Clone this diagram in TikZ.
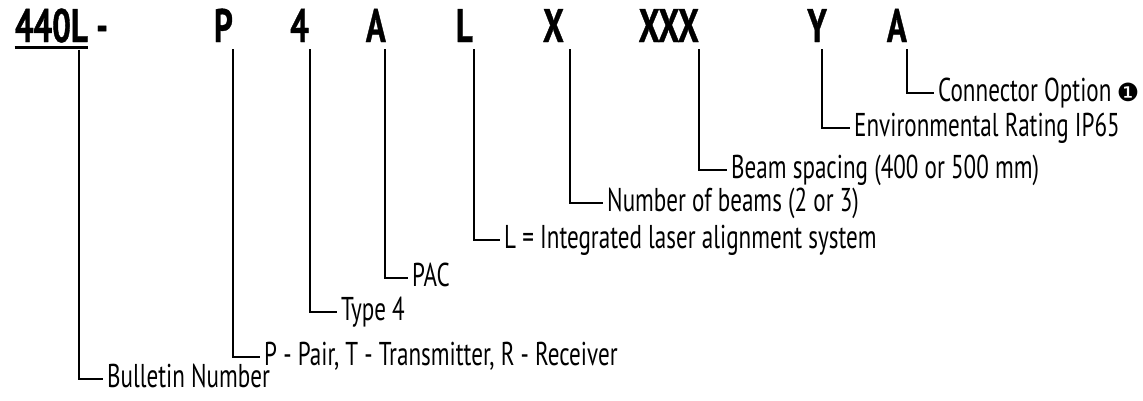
\documentclass[tikz,border=0pt]{standalone}
\usepackage{fontspec}
\setmainfont{PT Sans}[FakeStretch=0.70, BoldFeatures={FakeBold=0.8}]
\newfontfamily\symfont{DejaVu Sans}
\usetikzlibrary{positioning}

\begin{document}
\begin{tikzpicture}[x=1pt, y=-1pt,
    codechar/.style={font=\fontsize{47}{47}\selectfont\bfseries,
        inner xsep=0pt, inner ysep=7pt, anchor=base east},
    optlabel/.style={font=\fontsize{33}{33}\selectfont,
        inner xsep=4pt, inner ysep=0pt, text height=16pt, text depth=0pt,
        anchor=west},
    lead/.style={line width=2pt}
]
    \useasboundingbox (0,0) rectangle (1143,400);

    \node[codechar] (c440) at (88,42) {440L};
    \node[codechar, anchor=base west] (cdash) at (96,42) {-};
    \node[codechar] (cP) at (233,42) {P};
    \node[codechar] (c4) at (309,42) {4};
    \node[codechar] (cA) at (386,42) {A};
    \node[codechar] (cL) at (473,42) {L};
    \node[codechar] (cX) at (564,42) {X};
    \node[codechar] (cXXX) at (699,42) {XXX};
    \node[codechar] (cY) at (827,42) {Y};
    \node[codechar] (cConn) at (907,42) {A};
    \draw[line width=3pt] ([yshift=-5pt]c440.base west) -- ([yshift=-5pt]c440.base east);

    \node[optlabel] (lBul) at (103,379) {Bulletin Number};
    \node[optlabel] (lP) at (260,357) {P - Pair, T - Transmitter, R - Receiver};
    \node[optlabel] (lType) at (337,312) {Type 4};
    \node[optlabel] (lPAC) at (408,278) {PAC};
    \node[optlabel] (lL) at (500,240) {L = Integrated laser alignment system};
    \node[optlabel] (lNum) at (603,203) {Number of beams (2 or 3)};
    \node[optlabel] (lBeam) at (727,170) {Beam spacing (400 or 500 mm)};
    \node[optlabel] (lEnv) at (850,128) {Environmental Rating IP65};
    \node[optlabel] (lConn) at (934,93)
        {Connector Option\,{\symfont\fontsize{25}{25}\selectfont ❶}};

    \draw[lead] ([xshift=-9pt]c440.south east) |- (lBul.west);
    \draw[lead] (cP.south east) |- (lP.west);
    \draw[lead] ([xshift=1pt]c4.south east) |- (lType.west);
    \draw[lead] ([xshift=-1pt]cA.south east) |- (lPAC.west);
    \draw[lead] ([xshift=1pt]cL.south east) |- (lL.west);
    \draw[lead] ([xshift=6pt]cX.south east) |- (lNum.west);
    \draw[lead] (cXXX.south east) |- (lBeam.west);
    \draw[lead] ([xshift=-5pt]cY.south east) |- (lEnv.west);
    \draw[lead] (cConn.south east) |- (lConn.west);
\end{tikzpicture}
\end{document}
